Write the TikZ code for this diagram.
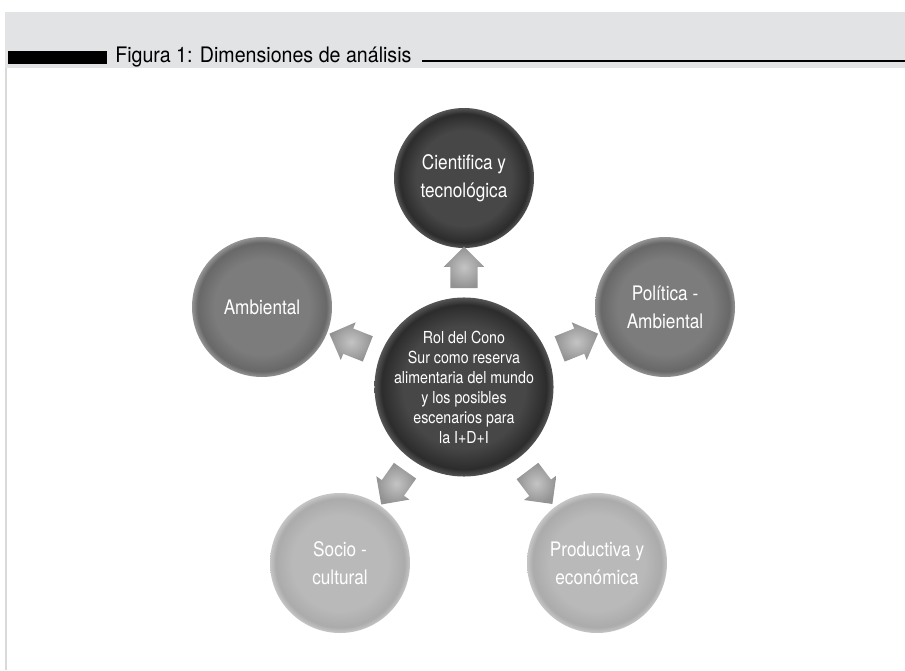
\documentclass[tikz,border=0pt]{standalone}
\usepackage{fontspec}
\setmainfont{TeX Gyre Heros}
\newfontfamily\circfont{TeX Gyre Heros}[FakeStretch=0.86]
\newfontfamily\headfont{TeX Gyre Heros}[FakeStretch=0.92]
\usetikzlibrary{shapes.arrows,calc}

\definecolor{bandgrey}{HTML}{E2E3E5}
\definecolor{edgegrey}{HTML}{D9D9D9}
\definecolor{arrowlight}{HTML}{C4C4C4}
\definecolor{arrowdark}{HTML}{929292}
% three tones of ball: flat centre, darker ring, soft rim
\definecolor{darkC}{HTML}{474747}\definecolor{darkR}{HTML}{2C2C2C}\definecolor{darkE}{HTML}{555555}
\definecolor{midC}{HTML}{7C7C7C}\definecolor{midR}{HTML}{686868}\definecolor{midE}{HTML}{949494}
\definecolor{liteC}{HTML}{B9B9BA}\definecolor{liteR}{HTML}{ABABAC}\definecolor{liteE}{HTML}{C6C6C6}
\pgfdeclareradialshading{balldark}{\pgfpoint{0bp}{0bp}}{color(0bp)=(darkC); color(17bp)=(darkC); color(23bp)=(darkR); color(25bp)=(darkE); color(50bp)=(darkE)}
\pgfdeclareradialshading{ballmid}{\pgfpoint{0bp}{0bp}}{color(0bp)=(midC); color(17bp)=(midC); color(23bp)=(midR); color(25bp)=(midE); color(50bp)=(midE)}
\pgfdeclareradialshading{balllite}{\pgfpoint{0bp}{0bp}}{color(0bp)=(liteC); color(17bp)=(liteC); color(23bp)=(liteR); color(25bp)=(liteE); color(50bp)=(liteE)}

\begin{document}
\begin{tikzpicture}[
  x=0.75pt, y=-0.75pt,
  dim/.style={circle, minimum size=105pt, inner sep=0pt, align=center, text=white,
    font=\circfont\fontsize{15}{21}\selectfont, shade},
  dimdark/.style={dim, shading=balldark},
  dimmid/.style={dim, shading=ballmid},
  dimlite/.style={dim, shading=balllite},
  hub/.style={dimdark, minimum size=130.5pt, font=\circfont\fontsize{12.4}{15}\selectfont},
  flow/.style={single arrow, minimum height=31pt, inner xsep=0pt, inner ysep=10pt,
    single arrow head extend=5pt, shade, inner color=arrowlight, outer color=arrowdark}
]
\useasboundingbox (0,0) rectangle (905,670);

% header band and frame
\fill[bandgrey] (5,12) rectangle (905,68);
\fill[edgegrey] (5,68) rectangle (7,670);
\fill[black] (8,51) rectangle (107,64);
\node[anchor=base west, inner sep=0pt, font=\headfont\fontsize{16}{18}\selectfont] (title) at (115,63) {Figura 1: Dimensiones de análisis};
\coordinate (rule) at (905,61);
\draw[line width=1.5pt] ($(title.east|-rule)+(10,0)$) -- (rule);

% centre and the five dimensions
\node[hub] (core) at (464,387) {Rol del Cono\\Sur como reserva\\alimentaria del mundo\\y los posibles\\escenarios para\\la I+D+I};
\node[dimdark] (sci) at (464,178) {Cientifica y\\tecnológica};
\node[dimmid] (amb) at (262,307) {Ambiental};
\node[dimmid] (pol) at (665,307) {Política -\\Ambiental};
\node[dimlite] (soc) at (340,563) {Socio -\\cultural};
\node[dimlite] (prod) at (597,563) {Productiva y\\económica};

% block arrows half way in each gap
\foreach \tgt/\ang in {sci/90, amb/158.4, pol/21.7, soc/234.8, prod/307.1} {
  \node[flow, rotate=\ang] (to\tgt) at ($(core)!0.54!(\tgt)$) {};
}
\end{tikzpicture}
\end{document}
